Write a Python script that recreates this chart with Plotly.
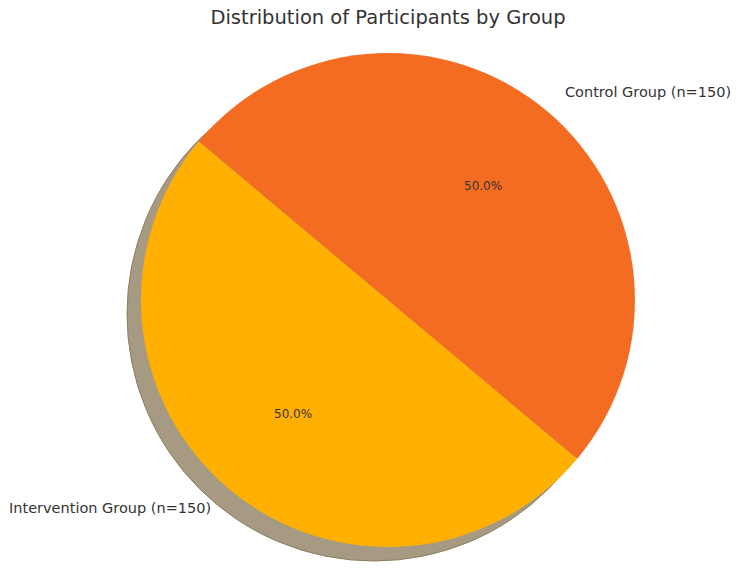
import numpy as np
import plotly.graph_objects as go

# ----------------------------
# Data
# ----------------------------

groups = ["Intervention Group (n=150)", "Control Group (n=150)"]
counts = [150, 150]
colors = ["#FFB000", "#F46B22"]
start_angle = 140  # degrees, counter-clockwise from 3 o'clock

# ----------------------------
# Geometry (pixels)
# ----------------------------

W, H = 739, 580
cx, cy, r = 388, 300, 247
shadow_dx, shadow_dy = -14, 14


def domain(x0, y0, rad):
    return dict(
        x=[(x0 - rad) / W, (x0 + rad) / W],
        y=[1 - (y0 + rad) / H, 1 - (y0 - rad) / H],
    )


fig = go.Figure()

# shadow
fig.add_trace(
    go.Pie(
        values=[1],
        domain=domain(cx + shadow_dx, cy + shadow_dy, r),
        marker=dict(colors=["#A79A82"], line=dict(color="#8C7D5E", width=1)),
        textinfo="none",
        hoverinfo="skip",
        showlegend=False,
    )
)

# pie (plotly's rotation is clockwise from 12 o'clock and marks the
# end of the first counter-clockwise slice, hence the extra 180)
fig.add_trace(
    go.Pie(
        labels=groups,
        values=counts,
        sort=False,
        direction="counterclockwise",
        rotation=270 - start_angle,
        domain=domain(cx, cy, r),
        marker=dict(colors=colors, line=dict(width=0)),
        textinfo="none",
        showlegend=False,
    )
)

# ----------------------------
# Labels (matplotlib-style placement)
# ----------------------------

total = sum(counts)
angle = start_angle
for name, v in zip(groups, counts):
    span = 360 * v / total
    mid = np.radians(angle + span / 2)
    angle += span
    c, s = np.cos(mid), np.sin(mid)

    fig.add_annotation(
        x=(cx + 0.6 * r * c) / W, y=1 - (cy - 0.6 * r * s) / H,
        xref="paper", yref="paper",
        text=f"{100 * v / total:.1f}%",
        showarrow=False,
        font=dict(size=12, color="#333333"),
        xanchor="center", yanchor="middle",
    )
    fig.add_annotation(
        x=(cx + 1.1 * r * c) / W, y=1 - (cy - 1.1 * r * s) / H,
        xref="paper", yref="paper",
        text=name,
        showarrow=False,
        font=dict(size=14.5, color="#333333"),
        xanchor="left" if c > 0 else "right", yanchor="middle",
    )

# ----------------------------
# Layout
# ----------------------------

fig.update_layout(
    width=W,
    height=H,
    margin=dict(l=0, r=0, t=0, b=0),
    paper_bgcolor="white",
    font=dict(family="DejaVu Sans", color="#333333"),
    title=dict(
        text="Distribution of Participants by Group",
        x=cx / W, xanchor="center",
        y=1 - 17 / H, yanchor="middle",
        font=dict(size=19.5, color="#333333"),
    ),
)

fig.write_html(
    "out.html",
    config={"displayModeBar": False},
    post_script="document.body.style.margin='0';",
)
